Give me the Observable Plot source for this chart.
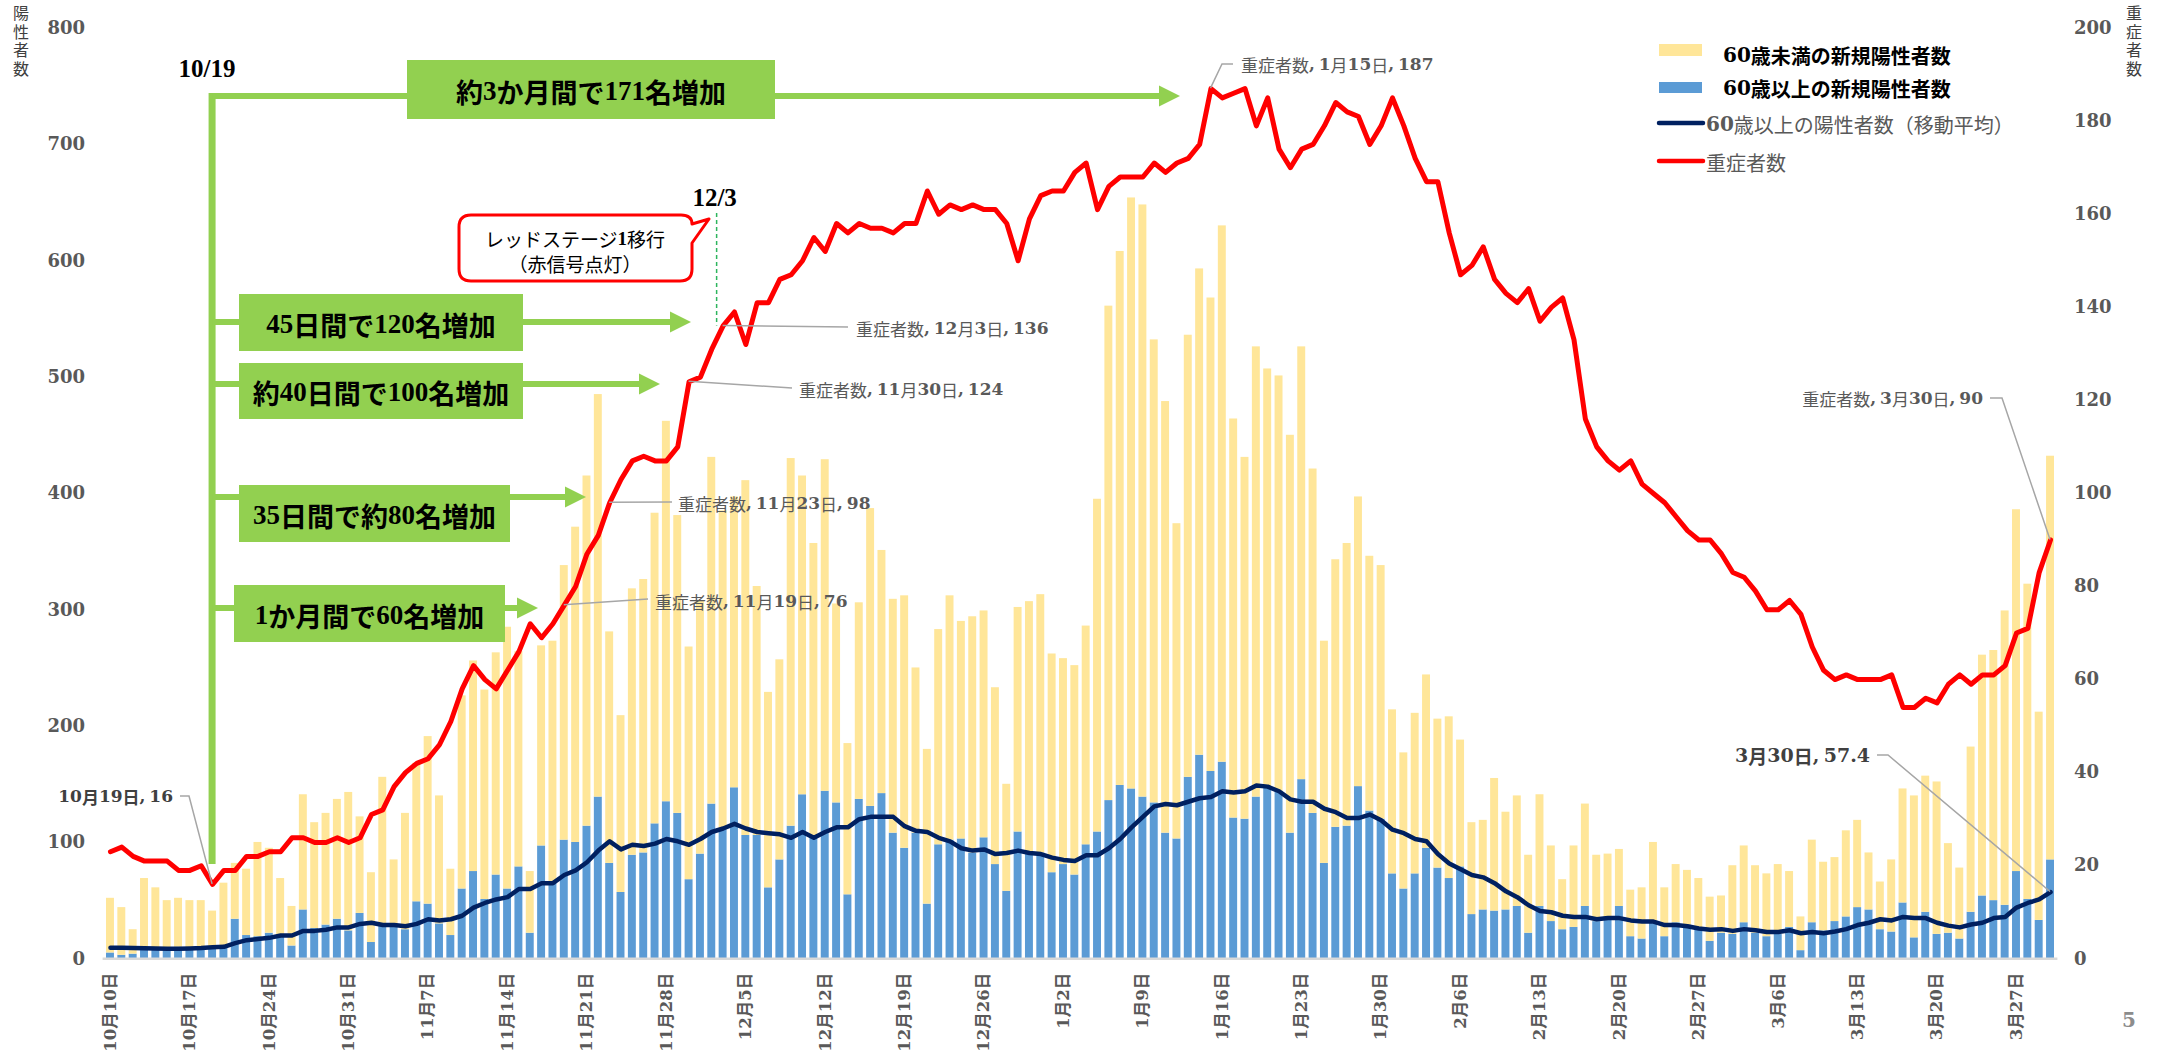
<!DOCTYPE html>
<html><head><meta charset="utf-8">
<script src="https://cdn.jsdelivr.net/npm/d3@7"></script>
<script src="https://cdn.jsdelivr.net/npm/@observablehq/plot@0.6"></script>
<style>
html,body{margin:0;padding:0;background:#fff;}
#chart svg{display:block;}
</style></head><body><div id="chart"></div>
<script>
// ---- categories: one bar per day, 2020-10-10 .. 2021-03-30 ----
const firstDay = new Date(Date.UTC(2020, 9, 10));
const dayAfterLast = new Date(Date.UTC(2021, 2, 31));
const days = d3.utcDay.range(firstDay, dayAfterLast).map(d3.utcFormat("%-m月%-d日"));

// ---- tick labels (weekly) ----
const tickLabels = ["10月10日","10月17日","10月24日","10月31日","11月7日","11月14日","11月21日","11月28日",
  "12月5日","12月12日","12月19日","12月26日","1月2日","1月9日","1月16日","1月23日","1月30日",
  "2月6日","2月13日","2月20日","2月27日","3月6日","3月13日","3月20日","3月27日"];
const leftTicks = [0,100,200,300,400,500,600,700,800];
const rightTicks = [0,20,40,60,80,100,120,140,160,180,200];

// ---- series: 60歳未満の新規陽性者数 ----
const under60 = [
  47,41,21,61,53,43,42,42,42,31,55,48,57,81,73,49,34,99,91,96,103,119,
  83,60,128,56,100,119,144,110,57,166,181,180,191,225,185,53,172,208,236,271,301,346,199,152,229,235,267,327,256,200,
  218,298,274,250,305,214,168,172,316,274,253,285,171,130,169,256,209,201,217,142,133,185,210,187,203,195,152,92,193,216,222,
  188,177,180,188,286,425,459,508,509,398,371,271,380,418,407,461,343,311,387,359,357,342,372,296,191,230,243,249,219,218,141,
  117,138,149,128,139,109,79,77,114,84,95,67,96,65,43,70,88,57,54,49,40,44,69,42,50,47,43,38,
  32,59,66,58,54,60,48,29,71,59,55,74,75,49,41,62,98,122,117,131,77,61,142,207,215,253,311,271,179,347
];
// ---- series: 60歳以上の新規陽性者数 ----
const over60 = [
  5,3,4,8,8,7,10,8,8,10,10,34,20,19,22,20,11,42,26,29,34,24,
  39,14,28,29,25,49,47,30,20,60,75,51,72,60,79,22,97,65,102,100,114,139,82,57,89,91,116,135,125,68,
  90,133,111,147,106,106,61,85,114,141,104,144,134,55,137,131,142,108,95,108,47,98,102,103,91,104,81,58,109,91,91,
  74,81,72,98,109,136,149,146,139,134,108,103,156,175,161,169,121,120,139,148,144,108,154,125,82,113,114,148,127,120,73,
  60,73,95,78,69,79,38,42,41,42,45,22,45,32,25,27,45,32,36,45,19,17,31,19,31,29,26,15,
  22,21,31,22,19,21,27,7,31,24,32,36,44,42,25,23,48,18,40,21,22,17,40,54,50,46,75,51,33,85
];
// ---- series: 60歳以上の陽性者数（移動平均） ----
const over60Avg = [
  9.5,9.4,9.2,9.0,8.8,8.6,8.6,8.8,9.2,10.0,10.3,13.5,16,17,18,20,20,24,24,25,27,27,
  30,31,29,29,28,30,34,33,34,37,44,48,51,53,60,60,65,65,72,76,83,93,101,94,98,97,99,103,101,98,
  103,109,112,116,112,109,108,107,104,109,104,109,113,113,120,122,122,122,114,110,109,104,101,95,93,94,90,91,93,91,90,
  87,85,84,89,89,95,103,113,122,131,133,132,135,138,139,144,143,144,149,148,144,137,135,135,129,126,121,121,124,119,111,
  108,103,101,90,82,77,72,70,65,58,53,46,41,40,37,36,36,34,35,35,33,32,32,29,29,28,26,25,
  25.5,24,25.5,24.5,23,23,24.5,22,23,22,23.5,25.5,29,31,34,33,36,35,35,31,28.5,27,29.5,31,35,36,44,48,51,57.4
];
// ---- series: 重症者数 (right axis) ----
const severe = [
  23,24,22,21,21,21,19,19,20,16,19,19,22,22,23,23,26,26,25,25,26,25,
  26,31,32,37,40,42,43,46,51,58,63,60,58,62,66,72,69,72,76,80,87,91,98,103,107,108,107,107,110,124,
  125,131,136,139,132,141,141,146,147,150,155,152,158,156,158,157,157,156,158,158,165,160,162,161,162,161,161,158,150,159,164,
  165,165,169,171,161,166,168,168,168,171,169,171,172,175,187,185,186,187,179,185,174,170,174,175,179,184,182,181,175,179,185,
  179,172,167,167,156,147,149,153,146,143,141,144,137,140,142,133,116,110,107,105,107,102,100,98,95,92,90,90,
  87,83,82,79,75,75,77,74,67,62,60,61,60,60,60,61,54,54,56,55,59,61,59,61,61,63,70,71,83,90
];

const LEFT_MAX = 800, RIGHT_MAX = 200, RATIO = LEFT_MAX / RIGHT_MAX;
const SERIF = '"DejaVu Serif", "Noto Sans CJK JP", serif';
const SANS = '"Noto Sans CJK JP", "Noto Sans", sans-serif';
const MIX = '"DejaVu Serif", "Noto Sans CJK JP", serif';
const C = {under: "#FFE699", over: "#5B9BD5", avg: "#002060", severe: "#FF0000", green: "#92D050", tick: "#595959", label: "#595959", leader: "#A6A6A6"};

const barRows = [
  ...days.map((d, i) => ({day: d, group: "over", value: over60[i]})),
  ...days.map((d, i) => ({day: d, group: "under", value: under60[i]}))
];
const lineRows = days.map((d, i) => ({day: d, avg: over60Avg[i], severe: severe[i]}));

const W = 2161, H = 1053;
const plot = Plot.plot({
  width: W, height: H,
  marginLeft: 102.6, marginRight: 103.6, marginTop: 27.6, marginBottom: 94.7,
  style: {background: "#fff", overflow: "visible"},
  x: {type: "band", domain: days, padding: 0.3},
  y: {domain: [0, LEFT_MAX]},
  color: {domain: ["over", "under"], range: [C.over, C.under]},
  marks: [
    Plot.barY(barRows, {x: "day", y: "value", fill: "group", z: "group"}),
    Plot.ruleY([0], {stroke: "#D9D9D9", strokeWidth: 2.5}),
    Plot.line(lineRows, {x: "day", y: "avg", stroke: C.avg, strokeWidth: 4.5, strokeLinejoin: "round", strokeLinecap: "round"}),
    Plot.line(lineRows, {x: "day", y: d => d.severe * RATIO, stroke: C.severe, strokeWidth: 5, strokeLinejoin: "round", strokeLinecap: "round"}),
    Plot.axisY({anchor: "left", ticks: leftTicks, tickSize: 0, tickPadding: 18, label: null,
      fontFamily: SERIF, fontWeight: "bold", fontSize: 18, color: C.tick}),
    Plot.axisY({anchor: "right", ticks: rightTicks.map(v => v * RATIO), tickFormat: v => v / RATIO, tickSize: 0, tickPadding: 16, label: null,
      fontFamily: SERIF, fontWeight: "bold", fontSize: 18, color: C.tick}),
    Plot.axisX({anchor: "bottom", ticks: tickLabels, tickRotate: -90, tickSize: 0, tickPadding: 14, label: null,
      fontFamily: MIX, fontWeight: "bold", fontSize: 16.5, color: "#595959"})
  ]
});
document.getElementById("chart").append(plot);

// ---------- annotations ----------
const xs = plot.scale("x"), ys = plot.scale("y");
const px = k => xs.apply(k) + xs.bandwidth / 2;
const py = v => ys.apply(v);
const svg = d3.select(plot);
const g = svg.append("g").attr("class", "annotations");

function mixed(parent, str, {x, y, anchor = "start", size = 17, color = C.label, cjkWeight = "normal", numWeight = "bold", numFamily = SERIF, cjkFamily = SANS}) {
  const t = parent.append("text").attr("x", x).attr("y", y).attr("text-anchor", anchor)
    .attr("dominant-baseline", "central").attr("font-size", size).attr("fill", color).style("white-space", "pre");
  str.split(/([0-9.,\/]+)/).filter(s => s.length).forEach(part => {
    const isNum = /^[0-9.,\/]+$/.test(part);
    t.append("tspan").text(part).attr("font-family", isNum ? numFamily : cjkFamily).attr("font-weight", isNum ? numWeight : cjkWeight);
  });
  return t;
}

// vertical axis titles (single text in vertical writing mode, centred on yMid)
function vertical(str, x, yMid, size) {
  g.append("text").attr("x", x).attr("y", yMid).attr("text-anchor", "middle")
    .style("writing-mode", "vertical-rl").style("text-orientation", "upright")
    .attr("font-family", SANS).attr("font-size", size).attr("letter-spacing", 2.5)
    .attr("fill", "#404040").text(str);
}
vertical("陽性者数", 21, 42, 16);
vertical("重症者数", 2134, 42, 16);

// green bracket from 10/19
const xStart = px("10月19日");
const green = g.append("g");
green.append("line").attr("x1", xStart).attr("x2", xStart).attr("y1", 93).attr("y2", 864).attr("stroke", C.green).attr("stroke-width", 7);
function arrow(y, xEnd) {
  green.append("line").attr("x1", xStart).attr("x2", xEnd - 20).attr("y1", y).attr("y2", y).attr("stroke", C.green).attr("stroke-width", 6);
  green.append("path").attr("d", `M${xEnd - 21},${y - 10.5}L${xEnd},${y}L${xEnd - 21},${y + 10.5}Z`).attr("fill", C.green);
}
function box(x0, x1, y0, y1, str, size = 27) {
  green.append("rect").attr("x", x0).attr("y", y0).attr("width", x1 - x0).attr("height", y1 - y0).attr("fill", C.green);
  mixed(green, str, {x: (x0 + x1) / 2, y: (y0 + y1) / 2 + 1, anchor: "middle", size, color: "#000", cjkWeight: "bold", numFamily: '"Liberation Serif", serif'});
}
arrow(96, 1180);
box(407, 775, 60, 119, "約3か月間で171名増加");
arrow(322, 691);
box(239, 523, 294, 351, "45日間で120名増加");
arrow(384, 660);
box(239, 523, 363, 419, "約40日間で100名増加");
arrow(497, 586);
box(239, 510, 485, 542, "35日間で約80名増加");
arrow(608, 538);
box(234, 505, 585, 642, "1か月間で60名増加");

g.append("text").attr("x", 207).attr("y", 68).attr("text-anchor", "middle").attr("dominant-baseline", "central")
  .attr("font-family", '"Liberation Serif", serif').attr("font-weight", "bold").attr("font-size", 25).attr("fill", "#000").text("10/19");

// 12/3 red stage marker
const x123 = px("12月3日");
g.append("line").attr("x1", x123 - 6).attr("x2", x123 - 6).attr("y1", 213).attr("y2", py(136 * RATIO))
  .attr("stroke", "#2DB55D").attr("stroke-width", 1.5).attr("stroke-dasharray", "4,3");
g.append("text").attr("x", x123 - 8).attr("y", 197).attr("text-anchor", "middle").attr("dominant-baseline", "central")
  .attr("font-family", '"Liberation Serif", serif').attr("font-weight", "bold").attr("font-size", 25).attr("fill", "#000").text("12/3");
g.append("path").attr("d", "M471,215H681Q692,215,692,224L709,219L692,243V269Q692,281,680,281H471Q459,281,459,269V227Q459,215,471,215Z")
  .attr("fill", "#fff").attr("stroke", C.severe).attr("stroke-width", 3).attr("stroke-linejoin", "round");
mixed(g, "レッドステージ1移行", {x: 575, y: 238, anchor: "middle", size: 19, color: "#000", numFamily: '"Liberation Serif", serif'});
mixed(g, "（赤信号点灯）", {x: 575, y: 263, anchor: "middle", size: 19, color: "#000"});

// data callouts
function leader(points) {
  g.append("polyline").attr("points", points.map(p => p.join(",")).join(" ")).attr("fill", "none")
    .attr("stroke", C.leader).attr("stroke-width", 1.5);
}
const sev = k => [px(k), py(severe[days.indexOf(k)] * RATIO)];
leader([sev("10月19日"), [189, 796], [180, 796]]);
mixed(g, "10月19日, 16", {x: 173, y: 796, anchor: "end", size: 17, color: "#404040", cjkWeight: "bold"});
leader([sev("11月19日"), [648, 599]]);
mixed(g, "重症者数, 11月19日, 76", {x: 655, y: 601, size: 17});
leader([sev("11月23日"), [672, 502]]);
mixed(g, "重症者数, 11月23日, 98", {x: 678, y: 503, size: 17});
leader([sev("11月30日"), [792, 388]]);
mixed(g, "重症者数, 11月30日, 124", {x: 799, y: 389, size: 17});
leader([sev("12月3日"), [848, 327]]);
mixed(g, "重症者数, 12月3日, 136", {x: 856, y: 328, size: 17});
leader([sev("1月15日"), [1222, 64], [1233, 64]]);
mixed(g, "重症者数, 1月15日, 187", {x: 1241, y: 64, size: 17});
leader([sev("3月30日"), [2002, 398], [1990, 398]]);
mixed(g, "重症者数, 3月30日, 90", {x: 1983, y: 398, anchor: "end", size: 17});
leader([[px("3月30日"), py(over60Avg[over60Avg.length - 1])], [1888, 755], [1877, 755]]);
mixed(g, "3月30日, 57.4", {x: 1870, y: 755, anchor: "end", size: 19, color: "#404040", cjkWeight: "bold"});

// legend
const lg = g.append("g");
lg.append("rect").attr("x", 1659).attr("y", 44).attr("width", 43).attr("height", 12).attr("fill", C.under);
mixed(lg, "60歳未満の新規陽性者数", {x: 1723, y: 55, size: 20, color: "#000", cjkWeight: "bold"});
lg.append("rect").attr("x", 1659).attr("y", 82).attr("width", 43).attr("height", 11).attr("fill", C.over);
mixed(lg, "60歳以上の新規陽性者数", {x: 1723, y: 88, size: 20, color: "#000", cjkWeight: "bold"});
lg.append("line").attr("x1", 1659).attr("x2", 1703).attr("y1", 123).attr("y2", 123).attr("stroke", C.avg).attr("stroke-width", 4.5).attr("stroke-linecap", "round");
mixed(lg, "60歳以上の陽性者数（移動平均）", {x: 1706, y: 124, size: 20, color: C.label});
lg.append("line").attr("x1", 1659).attr("x2", 1703).attr("y1", 161).attr("y2", 161).attr("stroke", C.severe).attr("stroke-width", 4.5).attr("stroke-linecap", "round");
mixed(lg, "重症者数", {x: 1706, y: 162, size: 20, color: C.label});

// page number
g.append("text").attr("x", 2129).attr("y", 1020).attr("text-anchor", "middle").attr("dominant-baseline", "central")
  .attr("font-family", SERIF).attr("font-weight", "bold").attr("font-size", 20).attr("fill", "#8C8C8C").text("5");
</script>
</body></html>
